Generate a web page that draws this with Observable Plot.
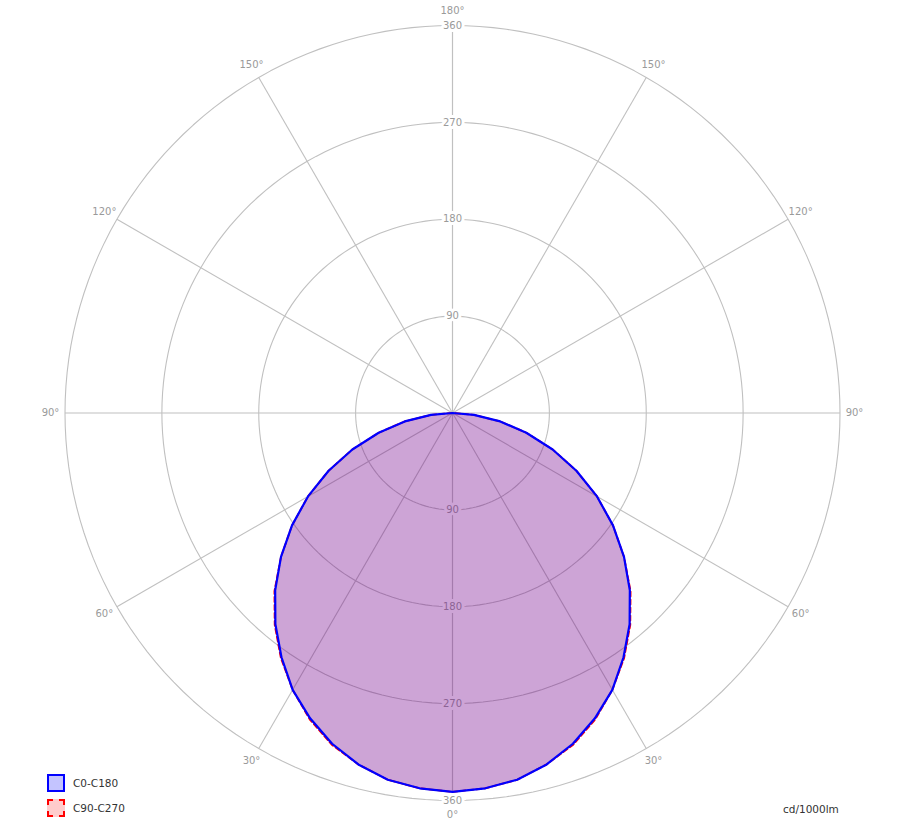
<!DOCTYPE html>
<html><head><meta charset="utf-8">
<script src="https://cdn.jsdelivr.net/npm/d3@7"></script>
<script src="https://cdn.jsdelivr.net/npm/@observablehq/plot@0.6"></script>
<style>
html,body{margin:0;padding:0;background:#fff;overflow:hidden}
#wrap{position:relative;width:908px;height:836px;font-family:"DejaVu Sans",sans-serif}
#wrap svg{display:block}
.sw{position:absolute;box-sizing:border-box;width:18px;height:18px;border-width:2px}
.lt{position:absolute;font-size:10.5px;color:#333;line-height:12px}
</style></head><body><div id="wrap"></div>
<script>
// ---- data (gamma angles in degrees, intensities in cd/1000lm) ----
const gammas   = [0, 5, 10, 15, 20, 25, 30, 35, 40, 45, 50, 55, 60, 65, 70, 75, 80, 85, 90];
const c0c180   = [352, 350, 346, 338, 327, 313, 297, 277, 256, 233, 208, 182, 155, 127, 99, 71, 45, 20, 0];
const c90c270  = [352, 350, 346, 338, 328, 314, 297, 278, 257, 234, 208, 182, 155, 127, 99, 71, 45, 20, 0];
const ringValues  = [90, 180, 270, 360];
const spokeAngles = [0, 30, 60, 90, 120, 150, 180];
const angleLabels = ["0°", "30°", "60°", "90°", "120°", "150°", "180°"];
const seriesNames  = ["C0-C180", "C90-C270"];
const seriesColors = ["#0000ff", "#ff0000"];
const unitLabel = "cd/1000lm";

// ---- layout ----
const W = 908, H = 836;
const cx = 452, cy = 412.5, Rpx = 387.5, rMax = 360;
const k = Rpx / rMax;
const labelR = 402 / k;
const rad = d => d * Math.PI / 180;

// polygon of a symmetric plane (right half then mirrored left half)
function polygon(vals, name) {
  const pts = [];
  gammas.forEach((g, i) => pts.push({x: vals[i] * Math.sin(rad(g)), y: -vals[i] * Math.cos(rad(g)), s: name}));
  for (let i = gammas.length - 1; i >= 0; i--) {
    const g = gammas[i];
    pts.push({x: -vals[i] * Math.sin(rad(g)), y: -vals[i] * Math.cos(rad(g)), s: name});
  }
  return pts;
}
const polyA = polygon(c0c180, seriesNames[0]);
const polyB = polygon(c90c270, seriesNames[1]);

// grid geometry
const ringPts = [];
ringValues.forEach(r => d3.range(0, 361, 2).forEach(a => ringPts.push({r, x: r * Math.sin(rad(a)), y: r * Math.cos(rad(a))})));
const spokes = [];
spokeAngles.forEach(a => [1, -1].forEach(side => spokes.push({x2: side * rMax * Math.sin(rad(a)), y2: -rMax * Math.cos(rad(a))})));
const aLabels = [];
spokeAngles.forEach((a, i) => {
  const sides = (a === 0 || a === 180) ? [1] : [1, -1];
  sides.forEach(side => aLabels.push({x: side * labelR * Math.sin(rad(a)), y: -labelR * Math.cos(rad(a)), t: angleLabels[i]}));
});
const rLabels = [];
ringValues.forEach(v => { rLabels.push({x: 0, y: v, t: String(v)}); rLabels.push({x: 0, y: -v, t: String(v)}); });

const gridColor = "#c0c0c0";
const textColor = "#9a9a9a";

const chart = Plot.plot({
  width: W, height: H,
  margin: 0,
  x: {domain: [-cx / k, (W - cx) / k], axis: null},
  y: {domain: [-(H - cy) / k, cy / k], axis: null},
  style: {fontFamily: "DejaVu Sans, sans-serif", fontSize: "10px", background: "white"},
  marks: [
    Plot.line(ringPts, {x: "x", y: "y", z: "r", stroke: gridColor, strokeWidth: 1.1}),
    Plot.link(spokes, {x1: 0, y1: 0, x2: "x2", y2: "y2", stroke: gridColor, strokeWidth: 1.1}),
    Plot.text(rLabels, {x: "x", y: "y", text: "t", fill: textColor, stroke: "white", strokeWidth: 6, fontSize: 10}),
    Plot.text(aLabels, {x: "x", y: "y", text: "t", fill: textColor, fontSize: 10}),
    Plot.line(polyA, {x: "x", y: "y", curve: "linear-closed", fill: seriesColors[0], fillOpacity: 0.23, stroke: "none"}),
    Plot.line(polyB, {x: "x", y: "y", curve: "linear-closed", fill: seriesColors[1], fillOpacity: 0.16, stroke: "none"}),
    Plot.line(polyB, {x: "x", y: "y", curve: "linear-closed", stroke: seriesColors[1], strokeWidth: 1.8, strokeDasharray: "5,3"}),
    Plot.line(polyA, {x: "x", y: "y", curve: "linear-closed", stroke: seriesColors[0], strokeWidth: 2.2})
  ]
});
const wrap = document.getElementById("wrap");
wrap.appendChild(chart);

// legend + unit (HTML overlay)
const legTop = [774, 799];
const bgs = ["rgba(0,0,255,0.23)", "rgba(255,0,0,0.2)"];
seriesNames.forEach((n, i) => {
  const sw = document.createElement("div");
  sw.className = "sw";
  sw.style.left = "47px"; sw.style.top = legTop[i] + "px";
  sw.style.borderStyle = i === 0 ? "solid" : "dashed";
  sw.style.borderColor = seriesColors[i];
  sw.style.background = bgs[i];
  wrap.appendChild(sw);
  const t = document.createElement("div");
  t.className = "lt"; t.textContent = n;
  t.style.left = "73px"; t.style.top = (legTop[i] + 3) + "px";
  wrap.appendChild(t);
});
const u = document.createElement("div");
u.className = "lt"; u.textContent = unitLabel;
u.style.left = "783px"; u.style.top = "803px";
wrap.appendChild(u);
</script>
</body></html>
